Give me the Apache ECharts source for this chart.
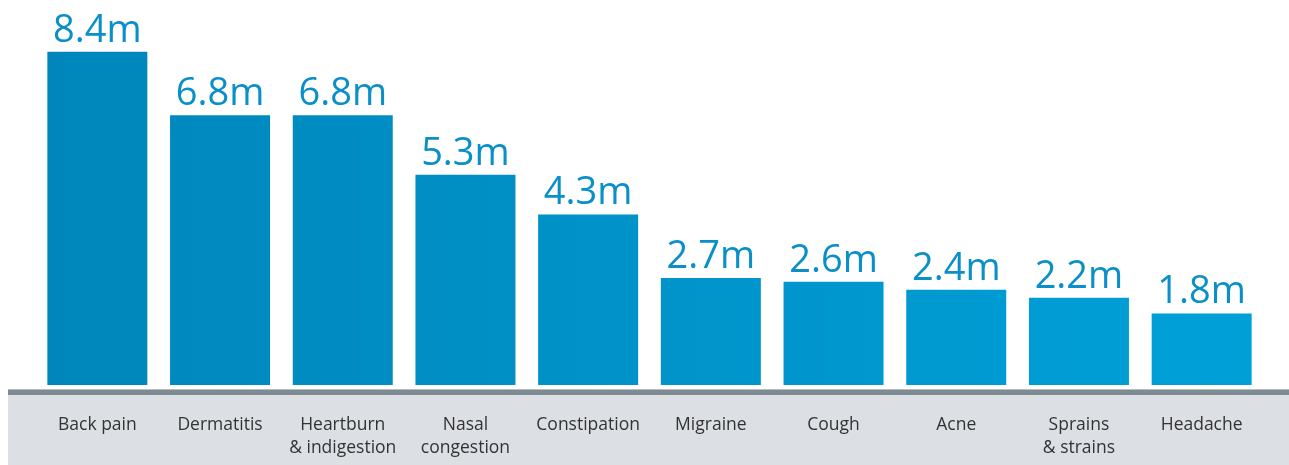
<!DOCTYPE html>
<html><head><meta charset="utf-8">
<script src="https://cdn.jsdelivr.net/npm/echarts@6/dist/echarts.min.js"></script>
<style>html,body{margin:0;padding:0;background:#fff}#c{width:1289px;height:465px}</style>
</head><body><div id="c"></div>
<script>
const categories = ['Back pain','Dermatitis','Heartburn\n& indigestion','Nasal\ncongestion','Constipation','Migraine','Cough','Acne','Sprains\n& strains','Headache'];
const values = [8.4, 6.8, 6.8, 5.3, 4.3, 2.7, 2.6, 2.4, 2.2, 1.8];
const unit = 'm';

const chart = echarts.init(document.getElementById('c'), null, {renderer:'canvas'});
chart.setOption({
  animation: false,
  graphic: [
    {type:'rect', shape:{x:8, y:389, width:1281, height:76}, style:{fill:'#dcdfe4'}, z:-10},
    {type:'rect', shape:{x:8, y:389, width:1281, height:1}, style:{fill:'#b5bdc2'}, z:-9},
    {type:'rect', shape:{x:8, y:390, width:1281, height:5}, style:{fill:'#7f8b92'}, z:-9}
  ],
  grid: {left:36, right:26, top:28, bottom:80, containLabel:false},
  xAxis: {
    type:'category', data:categories,
    axisLine:{show:false}, axisTick:{show:false},
    axisLabel:{color:'#333', fontFamily:'Open Sans', fontSize:17.5, lineHeight:23, margin:29, interval:0, verticalAlign:'top'}
  },
  yAxis: {type:'value', min:0, max:9, show:false, splitLine:{show:false}},
  series: [{
    type:'bar', data:values, barWidth:100,
    itemStyle:{color:new echarts.graphic.LinearGradient(47, 0, 1252, 0, [{offset:0,color:'#0086bb'},{offset:1,color:'#00a0d8'}], true)},
    label:{show:true, position:'top', distance:2, color:'#0a8fc8', fontFamily:'Open Sans', fontSize:38,
      formatter: p => p.value + unit}
  }]
});
</script></body></html>
